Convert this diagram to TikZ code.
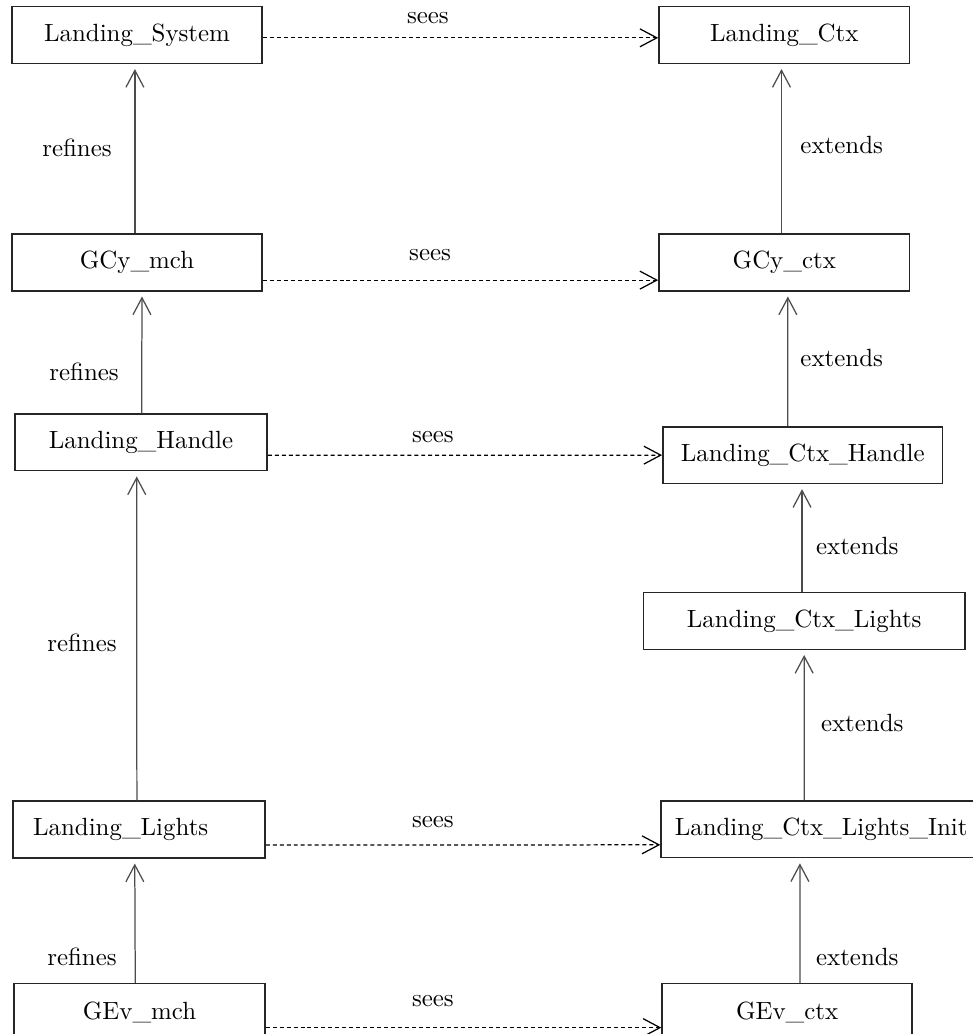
\documentclass[tikz,border=0pt]{standalone}
\usepackage{amsmath,amssymb}
\usepackage{xcolor}
\usetikzlibrary{arrows.meta}

\begin{document}
\begin{tikzpicture}[
    x=1cm, y=1cm,
    box/.style={draw=black!85, line width=0.6pt, inner sep=0pt, minimum height=0.8cm},
    seesarrow/.style={draw=black, line width=0.5pt, dash pattern=on 1.6pt off 1.2pt,
        -{Straight Barb[length=6.8pt,width=7.2pt]}},
    uparrow/.style={draw=black!70, line width=0.5pt,
        -{Straight Barb[length=6.8pt,width=7.2pt]}, shorten >=2pt},
    lbl/.style={inner sep=0pt}
  ]
  \useasboundingbox (0,0) rectangle (13.72,14.594);

  % machines
  \node[box, minimum width=3.53cm] (lsys) at (1.934,14.10) {Landing\_System};
  \node[box, minimum width=3.53cm] (gcym) at (1.934,10.89) {GCy\_mch};
  \node[box, minimum width=3.56cm] (lhdl) at (1.99,8.35) {Landing\_Handle};
  \node[box, minimum width=3.56cm, text width=2.99cm, align=left] (llgt) at (1.962,2.886) {Landing\_Lights};
  \node[box, minimum width=3.54cm] (gevm) at (1.969,0.31) {GEv\_mch};

  % contexts
  \node[box, minimum width=3.54cm] (lctx) at (11.07,14.10) {Landing\_Ctx};
  \node[box, minimum width=3.54cm] (gcyc) at (11.07,10.89) {GCy\_ctx};
  \node[box, minimum width=3.95cm] (lch) at (11.33,8.17) {Landing\_Ctx\_Handle};
  \node[box, minimum width=4.54cm] (lcl) at (11.35,5.83) {Landing\_Ctx\_Lights};
  \node[box, minimum width=4.52cm] (lcli) at (11.59,2.89) {Landing\_Ctx\_Lights\_Init};
  \node[box, minimum width=3.53cm] (gevc) at (11.11,0.31) {GEv\_ctx};

  % refines
  \draw[uparrow] ([xshift=-0.03cm]gcym.north) -- ([xshift=-0.03cm]lsys.south);
  \draw[uparrow] ([xshift=0.01cm]lhdl.north) -- ([xshift=0.07cm]gcym.south);
  \draw[uparrow] ([xshift=-0.03cm]llgt.north) -- ([xshift=-0.06cm]lhdl.south);
  \draw[uparrow] ([xshift=-0.06cm]gevm.north) -- ([xshift=-0.06cm]llgt.south);

  % extends
  \draw[uparrow] ([xshift=-0.04cm]gcyc.north) -- ([xshift=-0.04cm]lctx.south);
  \draw[uparrow] ([xshift=-0.21cm]lch.north) -- ([xshift=0.05cm]gcyc.south);
  \draw[uparrow] ([xshift=-0.03cm]lcl.north) -- ([xshift=-0.01cm]lch.south);
  \draw[uparrow] ([xshift=-0.24cm]lcli.north) -- (lcl.south);
  \draw[uparrow] ([xshift=0.18cm]gevc.north) -- ([xshift=-0.30cm]lcli.south);

  % sees
  \draw[seesarrow] ([yshift=-0.04cm]lsys.east) -- ([yshift=-0.04cm]lctx.west);
  \draw[seesarrow] ([yshift=-0.25cm]gcym.east) -- ([yshift=-0.25cm]gcyc.west);
  \draw[seesarrow] ([yshift=-0.18cm]lhdl.east) -- (lch.west);
  \draw[seesarrow] ([yshift=-0.22cm]llgt.east) -- ([yshift=-0.22cm]lcli.west);
  \draw[seesarrow] ([yshift=-0.22cm]gevm.east) -- ([yshift=-0.22cm]gevc.west);

  \node[lbl] (sees1) at (6.04,14.34) {sees};
  \node[lbl] (sees2) at (6.07,10.99) {sees};
  \node[lbl] (sees3) at (6.11,8.43) {sees};
  \node[lbl] (sees4) at (6.11,2.99) {sees};
  \node[lbl] (sees5) at (6.11,0.466) {sees};

  \node[lbl] (ref1) at (1.087,12.505) {refines};
  \node[lbl] (ref2) at (1.186,9.344) {refines};
  \node[lbl] (ref3) at (1.157,5.519) {refines};
  \node[lbl] (ref4) at (1.157,1.087) {refines};

  \node[lbl] (ext1) at (11.88,12.55) {extends};
  \node[lbl] (ext2) at (11.88,9.54) {extends};
  \node[lbl] (ext3) at (12.10,6.889) {extends};
  \node[lbl] (ext4) at (12.17,4.39) {extends};
  \node[lbl] (ext5) at (12.10,1.087) {extends};
\end{tikzpicture}
\end{document}
